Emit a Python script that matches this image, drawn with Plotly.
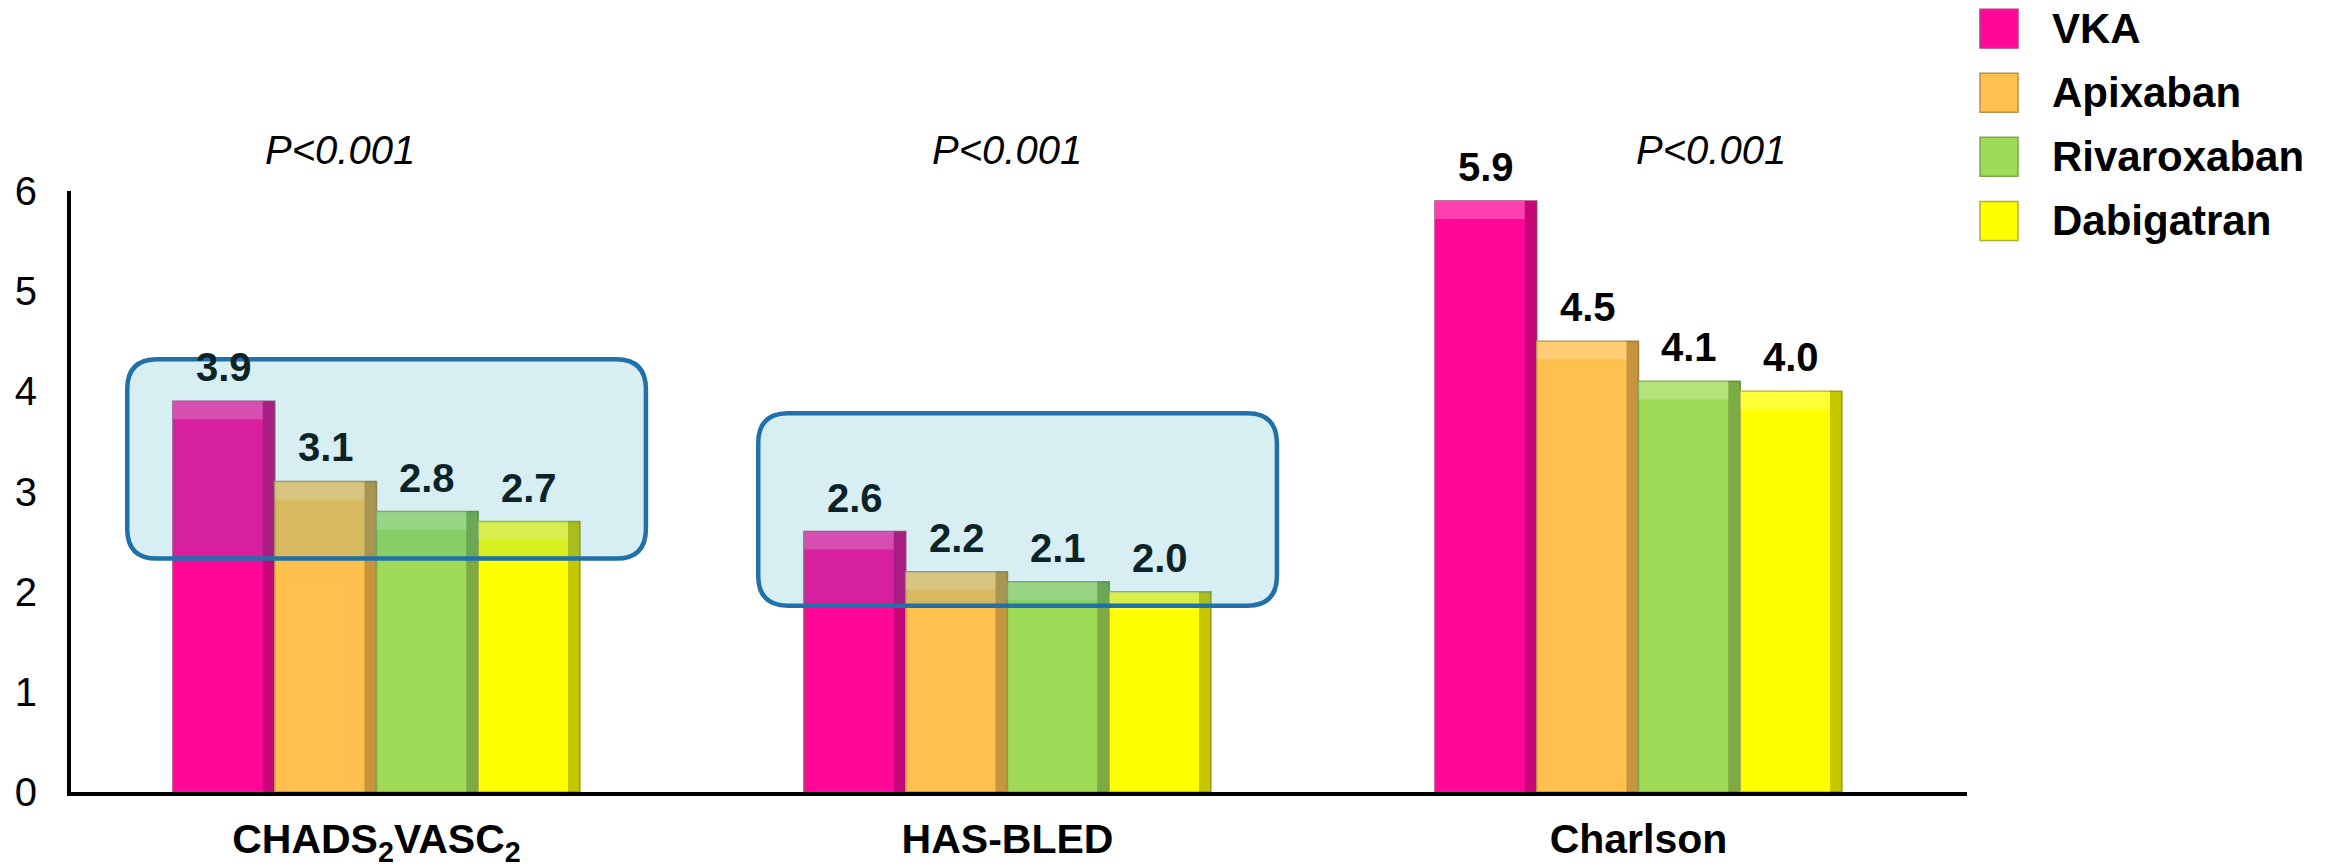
import plotly.graph_objects as go

# ---- data -------------------------------------------------------------
categories = ["CHADS<sub>2</sub>VASC<sub>2</sub>", "HAS-BLED", "Charlson"]
series_names = ["VKA", "Apixaban", "Rivaroxaban", "Dabigatran"]
vka = [3.9, 2.6, 5.9]
apixaban = [3.1, 2.2, 4.5]
rivaroxaban = [2.8, 2.1, 4.1]
dabigatran = [2.7, 2.0, 4.0]
p_values = ["P<0.001", "P<0.001", "P<0.001"]

series_values = [vka, apixaban, rivaroxaban, dabigatran]

# ---- styling ----------------------------------------------------------
FONT = "Liberation Sans, Arial, sans-serif"
colors = ["#ff0899", "#ffc04e", "#9fdb56", "#ffff00"]
edge_colors = ["#b0407f", "#b89050", "#7aa850", "#b0b040"]
BOX_FILL = "rgba(20,157,186,0.17)"
BOX_LINE = "#2170aa"
BOXED_TEXT = "#0c2327"

W, H = 2333, 867
M_L, M_R, M_T, M_B = 71, 366, 191, 74.5
plot_w = W - M_L - M_R
plot_h = H - M_T - M_B

X_MIN, X_MAX = -0.4841, 2.5206
px_per_x = plot_w / (X_MAX - X_MIN)
px_per_y = plot_h / 6.0

bargap = 0.355
n_series = len(series_values)
bar_w = (1 - bargap) / n_series
x_pos = list(range(len(categories)))

# bevel decoration sizes (pixels)
shade_px = 12
bevel_px = 18

# highlighted groups: category index -> (y bottom, y top) of the rounded frame
highlight = {0: (2.33, 4.32), 1: (1.86, 3.78)}
frame_x = (-0.395, 0.427)

fig = go.Figure()

for i, (name, vals) in enumerate(zip(series_names, series_values)):
    offset = -n_series * bar_w / 2 + i * bar_w
    fig.add_trace(go.Bar(
        x=x_pos, y=vals, name=name,
        width=bar_w, offset=offset,
        marker=dict(color=colors[i],
                    line=dict(color=edge_colors[i], width=1.5)),
        showlegend=False,
        hoverinfo="x+y",
    ))
    # bevel: darker right-hand side of each bar
    shade_w = shade_px / px_per_x
    fig.add_trace(go.Bar(
        x=x_pos, y=vals, width=shade_w, offset=offset + bar_w - shade_w,
        marker=dict(color="rgba(0,0,0,0.22)", line=dict(width=0)),
        showlegend=False, hoverinfo="skip",
    ))
    # bevel: lighter band along the top edge
    band_h = bevel_px / px_per_y
    fig.add_trace(go.Bar(
        x=x_pos, y=[band_h] * len(vals), base=[v - band_h for v in vals],
        width=bar_w - shade_w, offset=offset,
        marker=dict(color="rgba(255,255,255,0.22)", line=dict(width=0)),
        showlegend=False, hoverinfo="skip",
    ))
    # value labels above each bar
    for j, v in enumerate(vals):
        fig.add_annotation(
            x=j + offset + bar_w / 2, y=v, xref="x", yref="y",
            text=f"{v:.1f}", showarrow=False,
            yanchor="bottom", yshift=10,
            font=dict(family=FONT, size=40, weight="bold",
                      color=BOXED_TEXT if j in highlight else "#000000"),
        )


def rounded_rect(x0, x1, y0, y1, rx, ry):
    return (f"M {x0 + rx},{y1} L {x1 - rx},{y1} Q {x1},{y1} {x1},{y1 - ry} "
            f"L {x1},{y0 + ry} Q {x1},{y0} {x1 - rx},{y0} "
            f"L {x0 + rx},{y0} Q {x0},{y0} {x0},{y0 + ry} "
            f"L {x0},{y1 - ry} Q {x0},{y1} {x0 + rx},{y1} Z")


radius_px = 30
for j, (y0, y1) in highlight.items():
    fig.add_shape(
        type="path",
        path=rounded_rect(j + frame_x[0], j + frame_x[1], y0, y1,
                          radius_px / px_per_x, radius_px / px_per_y),
        xref="x", yref="y", layer="above",
        fillcolor=BOX_FILL, line=dict(color=BOX_LINE, width=4.5),
    )


def to_paper_x(px):
    return (px - M_L) / plot_w


def to_paper_y(py):
    return (H - M_B - py) / plot_h


# significance labels above each group (shifted slightly from group centres)
p_shift = [-0.058, 0.0, 0.115]
for j, txt in enumerate(p_values):
    fig.add_annotation(
        x=x_pos[j] + p_shift[j], y=to_paper_y(150), xref="x", yref="paper",
        text=f"<i>{txt}</i>", showarrow=False, yanchor="middle",
        font=dict(family=FONT, size=40, color="#000000"),
    )

# legend: coloured squares with bold labels at the right
legend_rows = [28.5, 92.7, 156.8, 221.0]
for i, name in enumerate(series_names):
    cy = legend_rows[i]
    fig.add_shape(
        type="rect", xref="paper", yref="paper",
        x0=to_paper_x(1980), x1=to_paper_x(2018),
        y0=to_paper_y(cy + 19.5), y1=to_paper_y(cy - 19.5),
        fillcolor=colors[i], line=dict(color=edge_colors[i], width=1.5),
    )
    fig.add_annotation(
        x=to_paper_x(2050), y=to_paper_y(cy), xref="paper", yref="paper",
        text=name, showarrow=False, xanchor="left", yanchor="middle",
        font=dict(family=FONT, size=42, weight="bold", color="#000000"),
    )

fig.update_layout(
    width=W, height=H, autosize=False,
    margin=dict(l=M_L, r=M_R, t=M_T, b=M_B, pad=0, autoexpand=False),
    paper_bgcolor="white", plot_bgcolor="white",
    barmode="overlay", bargap=bargap, bargroupgap=0,
    font=dict(family=FONT, color="#000000"),
    showlegend=False,
)
fig.update_xaxes(
    type="linear", range=[X_MIN, X_MAX], automargin=False,
    tickvals=x_pos, ticktext=categories,
    showline=True, linecolor="#000000", linewidth=4,
    showgrid=False, zeroline=False, ticks="",
    ticklabelstandoff=8,
    tickfont=dict(family=FONT, size=41, weight="bold", color="#000000"),
)
fig.update_yaxes(
    range=[0, 6], dtick=1, tick0=0, automargin=False,
    showline=True, linecolor="#000000", linewidth=4,
    showgrid=False, zeroline=False, ticks="",
    ticklabelstandoff=22,
    tickfont=dict(family=FONT, size=40, color="#000000"),
)

fig.write_html("out.html")
